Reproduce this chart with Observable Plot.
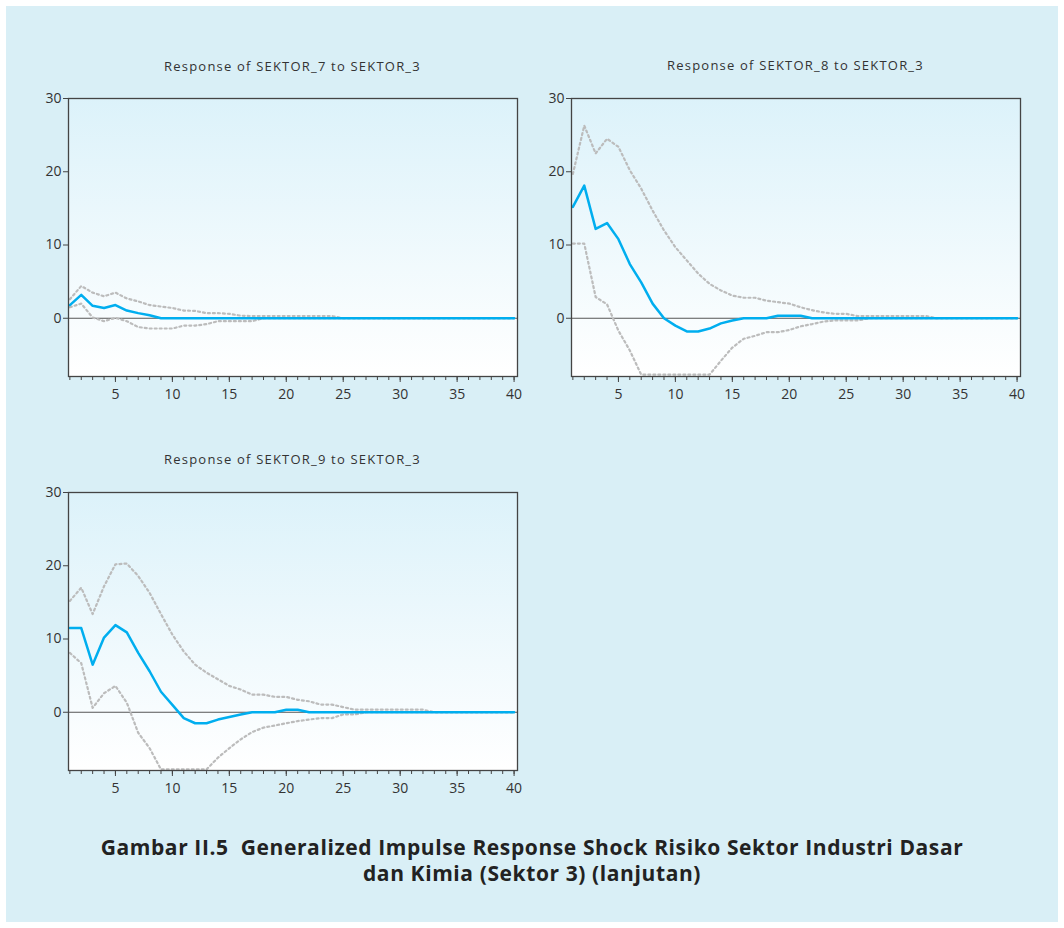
<!DOCTYPE html>
<html><head><meta charset="utf-8">
<script src="https://cdn.jsdelivr.net/npm/d3@7"></script>
<script src="https://cdn.jsdelivr.net/npm/@observablehq/plot@0.6"></script>
<style>
body{margin:0;background:#fff;font-family:"Open Sans",sans-serif;width:1064px;height:928px;overflow:hidden;}
#box{position:absolute;left:6px;top:6px;width:1052px;height:916px;background:#d9eff6;}
.title{position:absolute;font-size:13px;letter-spacing:1.2px;color:#333;text-align:center;width:449px;line-height:16px;}
.panel{position:absolute;}
#caption{position:absolute;left:0;top:834px;width:1064px;text-align:center;font-weight:700;font-size:21px;letter-spacing:0.6px;line-height:26px;color:#222;}
</style></head><body>
<div id="box"></div>
<div class="title" style="left:68px;top:58px">Response of SEKTOR_7 to SEKTOR_3</div>
<div class="title" style="left:571px;top:57px">Response of SEKTOR_8 to SEKTOR_3</div>
<div class="title" style="left:68px;top:451px">Response of SEKTOR_9 to SEKTOR_3</div>
<div class="panel" id="p1" style="left:30px;top:90px"></div>
<div class="panel" id="p2" style="left:533px;top:90px"></div>
<div class="panel" id="p3" style="left:30px;top:484px"></div>
<div id="caption">Gambar II.5&nbsp; Generalized Impulse Response Shock Risiko Sektor Industri Dasar<br>dan Kimia (Sektor 3) (lanjutan)</div>
<script>
const periods = [1,2,3,4,5,6,7,8,9,10,11,12,13,14,15,16,17,18,19,20,21,22,23,24,25,26,27,28,29,30,31,32,33,34,35,36,37,38,39,40];
const xLabels = [5,10,15,20,25,30,35,40];
const yTicks = [0,10,20,30];

const s7Resp  = [1.8,3.2,1.7,1.4,1.8,1.05,0.7,0.4,0,0, 0,0,0,0,0,0,0,0,0,0, 0,0,0,0,0,0,0,0,0,0, 0,0,0,0,0,0,0,0,0,0];
const s7Upper = [2.6,4.4,3.5,3.0,3.5,2.7,2.3,1.8,1.6,1.4, 1.05,1.0,0.7,0.7,0.6,0.35,0.3,0.3,0.3,0.3, 0.3,0.3,0.3,0.3,0,0,0,0,0,0, 0,0,0,0,0,0,0,0,0,0];
const s7Lower = [1.5,2.0,0.1,-0.4,0.05,-0.4,-1.2,-1.4,-1.4,-1.4, -1.0,-1.0,-0.8,-0.4,-0.4,-0.4,-0.4,0,0,0, 0,0,0,0,0,0,0,0,0,0, 0,0,0,0,0,0,0,0,0,0];

const s8Resp  = [15.2,18.1,12.2,13.0,10.8,7.4,4.9,2.0,0,-1.0, -1.8,-1.8,-1.4,-0.7,-0.3,0,0,0,0.35,0.35, 0.35,0,0,0,0,0,0,0,0,0, 0,0,0,0,0,0,0,0,0,0];
const s8Upper = [19.7,26.3,22.5,24.5,23.4,20.2,17.7,14.7,12.0,9.7, 7.9,6.1,4.7,3.8,3.1,2.8,2.8,2.4,2.2,2.0, 1.5,1.1,0.8,0.6,0.6,0.3,0.3,0.3,0.3,0.3, 0.3,0.3,0,0,0,0,0,0,0,0];
const s8Lower = [10.2,10.2,2.9,1.9,-1.7,-4.4,-7.7,-7.7,-7.7,-7.7, -7.7,-7.7,-7.7,-5.8,-4.0,-2.8,-2.4,-1.9,-1.9,-1.6, -1.1,-0.8,-0.45,-0.3,-0.3,-0.3,0,0,0,0, 0,0,0,0,0,0,0,0,0,0];

const s9Resp  = [11.5,11.5,6.5,10.2,11.9,10.9,8.1,5.6,2.8,1.0, -0.8,-1.5,-1.5,-1.0,-0.65,-0.3,0,0,0,0.35, 0.35,0,0,0,0,0,0,0,0,0, 0,0,0,0,0,0,0,0,0,0];
const s9Upper = [15.2,17.0,13.4,17.2,20.2,20.3,18.6,16.3,13.4,10.6, 8.3,6.5,5.4,4.5,3.6,3.1,2.4,2.4,2.1,2.1, 1.7,1.5,1.05,1.05,0.7,0.35,0.35,0.35,0.35,0.35, 0.35,0.35,0,0,0,0,0,0,0,0];
const s9Lower = [8.1,6.7,0.6,2.6,3.6,1.3,-2.8,-4.9,-7.8,-7.8, -7.8,-7.8,-7.8,-6.2,-4.9,-3.7,-2.7,-2.1,-1.8,-1.5, -1.2,-1.0,-0.8,-0.8,-0.3,-0.3,0,0,0,0, 0,0,0,0,0,0,0,0,0,0];

function panel(id, resp, upper, lower) {
  const data = periods.map((p, i) => ({p, r: resp[i], u: upper[i], l: lower[i]}));
  const dotted = {x: "p", stroke: "#bcbcbc", strokeWidth: 2.2, strokeDasharray: "2,3"};
  const plot = Plot.plot({
    width: 500, height: 320,
    marginLeft: 38, marginRight: 13, marginTop: 8, marginBottom: 34,
    style: {background: "transparent", fontFamily: "Open Sans", fontSize: "14px", color: "#333", overflow: "visible"},
    x: {domain: [0.88, 40.3]},
    y: {domain: [-7.95, 30]},
    marks: [
      Plot.frame({fill: `url(#grad-${id})`}),
      Plot.ruleY([0], {stroke: "#555", strokeWidth: 1}),
      Plot.line(data, {...dotted, y: "u"}),
      Plot.line(data, {...dotted, y: "l"}),
      Plot.line(data, {x: "p", y: "r", stroke: "#00aeef", strokeWidth: 2.5}),
      Plot.frame({stroke: "#444", strokeWidth: 1.3}),
      Plot.axisX({ticks: periods, tickSize: 4, tickFormat: () => "", label: null, stroke: "#444"}),
      Plot.axisX({ticks: xLabels, tickSize: 6, tickPadding: 7, tickFormat: d => d, label: null, stroke: "#444", fill: "#333", fontSize: 14}),
      Plot.axisY({ticks: yTicks, tickSize: 5, tickPadding: 2, tickFormat: d => d, label: null, stroke: "#444", fill: "#333", fontSize: 14})
    ]
  });
  const defs = d3.select(plot).insert("defs", ":first-child");
  const g = defs.append("linearGradient").attr("id", `grad-${id}`).attr("x1", 0).attr("y1", 0).attr("x2", 0).attr("y2", 1);
  g.append("stop").attr("offset", "0%").attr("stop-color", "#dcf2fa");
  g.append("stop").attr("offset", "100%").attr("stop-color", "#ffffff");
  document.getElementById(id).appendChild(plot);
}
panel("p1", s7Resp, s7Upper, s7Lower);
panel("p2", s8Resp, s8Upper, s8Lower);
panel("p3", s9Resp, s9Upper, s9Lower);
</script>
</body></html>
